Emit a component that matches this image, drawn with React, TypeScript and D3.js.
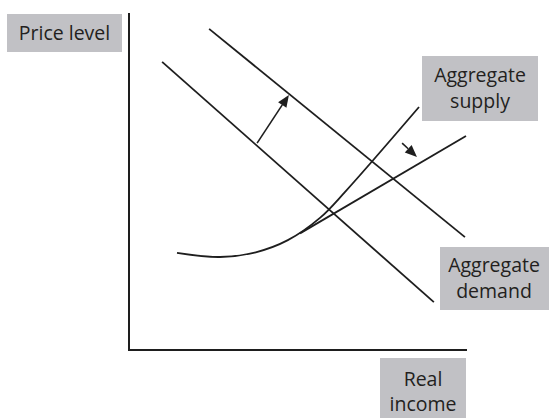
import React from "react";
import * as d3 from "d3";

// Conceptual diagram coordinates (0-100 on both axes)
const axisLabels = ["Price level", "Real income"];
const supplyLabel = ["Aggregate", "supply"];
const demandLabel = ["Aggregate", "demand"];

// Aggregate demand lines (original and shifted)
const demand1: [number, number][] = [[9.8, 85.5], [90.2, 14.2]];
const demand2: [number, number][] = [[23.7, 95.3], [99.4, 33.5]];

// Aggregate supply curve
const supplyCurve: [number, number][] = [
  [14.2, 28.8], [26.9, 27.6], [37.5, 29.0], [47.0, 32.6], [56.5, 39.2], [64.0, 47.0], [85.8, 72.1],
];
// Shifted (flatter) aggregate supply line
const supply2: [number, number][] = [[50.6, 34.6], [99.7, 63.5]];

// Shift arrows
const arrowDemand: [number, number][] = [[37.9, 61.4], [47.3, 75.7]];
const arrowSupply: [number, number][] = [[80.8, 61.4], [85.2, 57.3]];

const W = 549;
const H = 420;
const ink = "#1e1e1e";
const boxFill = "#c1c1c5";
const font = "'Open Sans', 'Noto Sans', sans-serif";

export default function App() {
  const x = d3.scaleLinear().domain([0, 100]).range([129, 467]);
  const y = d3.scaleLinear().domain([0, 100]).range([350, 13]);
  const line = d3.line<[number, number]>().x((d) => x(d[0])).y((d) => y(d[1]));
  const curve = d3
    .line<[number, number]>()
    .x((d) => x(d[0]))
    .y((d) => y(d[1]))
    .curve(d3.curveCatmullRom.alpha(0.5));

  const arrow = (pts: [number, number][], key: string) => {
    const [x0, y0] = [x(pts[0][0]), y(pts[0][1])];
    const [x1, y1] = [x(pts[1][0]), y(pts[1][1])];
    const ang = Math.atan2(y1 - y0, x1 - x0);
    const len = 12;
    const half = 5;
    const bx = x1 - len * Math.cos(ang);
    const by = y1 - len * Math.sin(ang);
    const px = -Math.sin(ang) * half;
    const py = Math.cos(ang) * half;
    return (
      <g key={key}>
        <line x1={x0} y1={y0} x2={bx} y2={by} stroke={ink} strokeWidth={1.6} />
        <path d={`M${x1},${y1}L${bx + px},${by + py}L${bx - px},${by - py}Z`} fill={ink} />
      </g>
    );
  };

  const textStyle = { fontFamily: font, fontSize: 19.5, fill: "#231f20" } as const;

  return (
    <svg width={W} height={H} style={{ position: "absolute", left: 0, top: 0, background: "#fff" }}>
      {/* axes */}
      <path
        d={`M${x(0)},${y(100)}L${x(0)},${y(0)}L${x(100)},${y(0)}`}
        fill="none"
        stroke={ink}
        strokeWidth={2}
      />
      {/* demand lines */}
      <path d={line(demand1) || ""} fill="none" stroke={ink} strokeWidth={1.8} />
      <path d={line(demand2) || ""} fill="none" stroke={ink} strokeWidth={1.8} />
      {/* supply */}
      <path d={curve(supplyCurve) || ""} fill="none" stroke={ink} strokeWidth={1.8} />
      <path d={line(supply2) || ""} fill="none" stroke={ink} strokeWidth={1.8} />
      {/* arrows */}
      {arrow(arrowDemand, "a1")}
      {arrow(arrowSupply, "a2")}

      {/* label boxes */}
      <rect x={7} y={14} width={115} height={38} fill={boxFill} />
      <text x={64.5} y={40} textAnchor="middle" style={textStyle}>{axisLabels[0]}</text>

      <rect x={422} y={56} width={116} height={65} fill={boxFill} />
      <text x={480} y={82} textAnchor="middle" style={textStyle}>{supplyLabel[0]}</text>
      <text x={480} y={108} textAnchor="middle" style={textStyle}>{supplyLabel[1]}</text>

      <rect x={440} y={247} width={109} height={63} fill={boxFill} />
      <text x={494} y={272} textAnchor="middle" style={textStyle}>{demandLabel[0]}</text>
      <text x={494} y={298} textAnchor="middle" style={textStyle}>{demandLabel[1]}</text>

      <rect x={380} y={358} width={86} height={60} fill={boxFill} />
      <text x={423} y={386} textAnchor="middle" style={textStyle}>{axisLabels[1].split(" ")[0]}</text>
      <text x={423} y={411} textAnchor="middle" style={textStyle}>{axisLabels[1].split(" ")[1]}</text>
    </svg>
  );
}
